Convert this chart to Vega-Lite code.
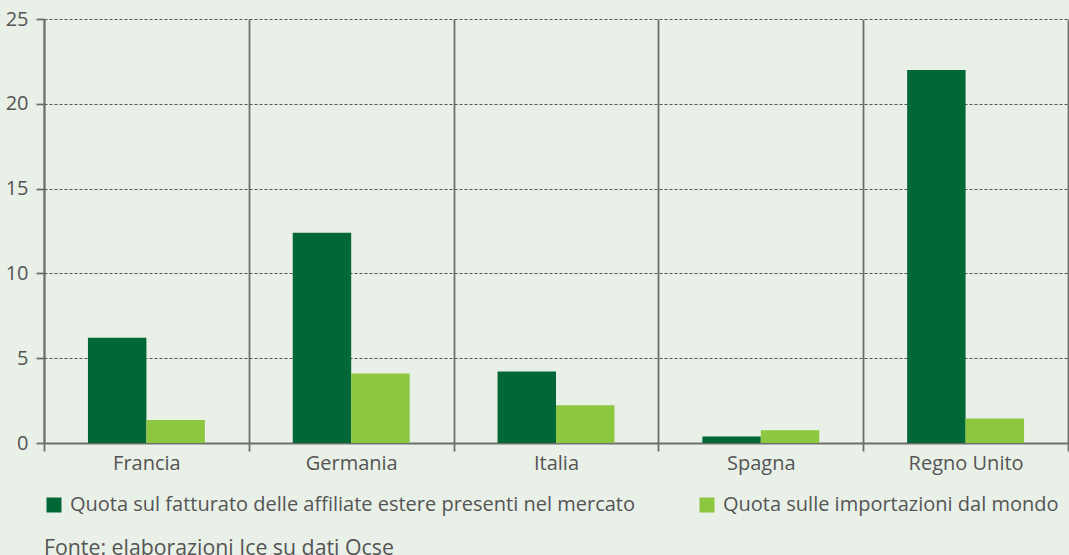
{
  "$schema": "https://vega.github.io/schema/vega-lite/v6.json",
  "width": 1024,
  "height": 424,
  "autosize": {"type": "none"},
  "padding": {"left": 44, "top": 19, "right": 1, "bottom": 112},
  "background": "#e8f0e7",
  "config": {"view": {"stroke": null}, "font": "Open Sans"},
  "title": {"text": "Fonte: elaborazioni Ice su dati Ocse", "orient": "bottom", "anchor": "start", "frame": "group", "fontSize": 21.3, "fontWeight": "normal", "color": "#555555", "offset": 23},
  "data": {"values": [
    {"paese": "Francia", "serie": "Quota sul fatturato delle affiliate estere presenti nel mercato", "valore": 6.2},
    {"paese": "Francia", "serie": "Quota sulle importazioni dal mondo", "valore": 1.35},
    {"paese": "Germania", "serie": "Quota sul fatturato delle affiliate estere presenti nel mercato", "valore": 12.4},
    {"paese": "Germania", "serie": "Quota sulle importazioni dal mondo", "valore": 4.1},
    {"paese": "Italia", "serie": "Quota sul fatturato delle affiliate estere presenti nel mercato", "valore": 4.22},
    {"paese": "Italia", "serie": "Quota sulle importazioni dal mondo", "valore": 2.22},
    {"paese": "Spagna", "serie": "Quota sul fatturato delle affiliate estere presenti nel mercato", "valore": 0.38},
    {"paese": "Spagna", "serie": "Quota sulle importazioni dal mondo", "valore": 0.75},
    {"paese": "Regno Unito", "serie": "Quota sul fatturato delle affiliate estere presenti nel mercato", "valore": 22.0},
    {"paese": "Regno Unito", "serie": "Quota sulle importazioni dal mondo", "valore": 1.45}
  ]},
  "mark": {"type": "bar"},
  "encoding": {
    "x": {"field": "paese", "type": "nominal", "sort": ["Francia", "Germania", "Italia", "Spagna", "Regno Unito"],
      "scale": {"paddingInner": 0, "paddingOuter": 0},
      "axis": {"title": null, "tickBand": "extent", "grid": true, "gridColor": "#6e6e6e", "gridWidth": 1.8, "gridOpacity": 1,
        "domain": true, "domainColor": "#6e6e6e", "domainWidth": 1.8, "tickColor": "#6e6e6e", "tickSize": 8, "tickWidth": 1.8,
        "labelAngle": 0, "labelFontSize": 20, "labelColor": "#555555", "labelPadding": 2}},
    "xOffset": {"field": "serie", "type": "nominal", "sort": ["Quota sul fatturato delle affiliate estere presenti nel mercato", "Quota sulle importazioni dal mondo"],
      "scale": {"paddingInner": 0, "paddingOuter": 0.752}},
    "y": {"field": "valore", "type": "quantitative", "scale": {"domain": [0, 25], "nice": false},
      "axis": {"title": null, "values": [0, 5, 10, 15, 20, 25], "grid": true, "gridDash": [3, 2], "gridColor": "#555555", "gridOpacity": 1, "gridWidth": 1,
        "domainColor": "#6e6e6e", "domainWidth": 1.8, "tickColor": "#6e6e6e", "tickSize": 8, "tickWidth": 1.8,
        "labelFontSize": 20, "labelColor": "#555555", "labelPadding": 8}},
    "color": {"field": "serie", "type": "nominal",
      "scale": {"domain": ["Quota sul fatturato delle affiliate estere presenti nel mercato", "Quota sulle importazioni dal mondo"], "range": ["#006837", "#8dc63f"]},
      "legend": {"title": null, "orient": "none", "legendX": 0, "legendY": 476, "direction": "horizontal", "columns": 2,
        "symbolType": "square", "symbolSize": 225, "symbolStrokeWidth": 0, "symbolOpacity": 1, "symbolOffset": 0,
        "labelFontSize": 20, "labelColor": "#555555", "labelLimit": 0, "labelOffset": 6, "columnPadding": 62, "padding": 0}}
  }
}
